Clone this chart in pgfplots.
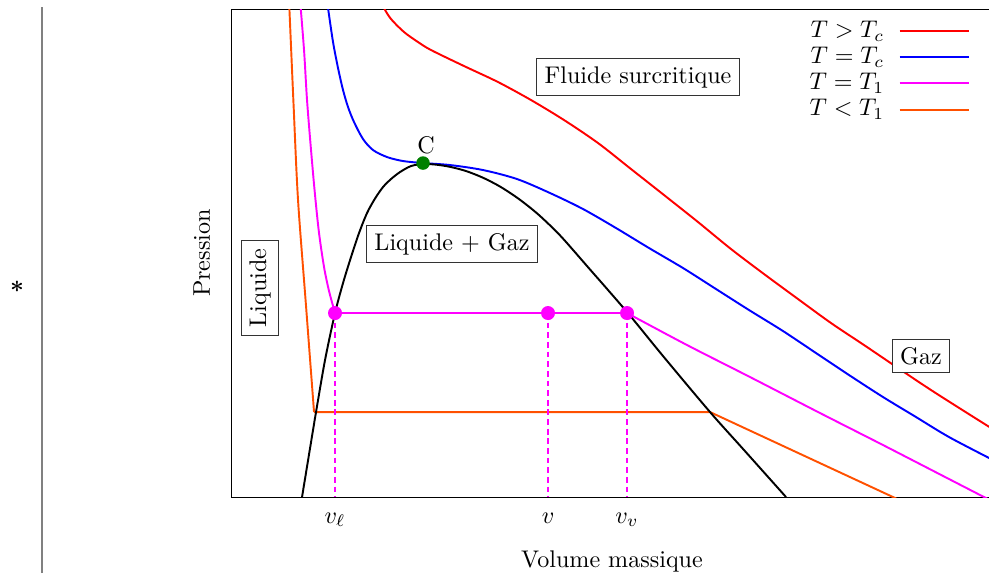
\documentclass[border=0pt]{standalone}
\usepackage{amsmath}
\usepackage{pgfplots}
\pgfplotsset{compat=1.18}
\definecolor{orangeT}{RGB}{255,80,0}
\definecolor{magentaT}{RGB}{255,0,255}
\definecolor{vertC}{RGB}{0,128,0}

\begin{document}
\begin{tikzpicture}
\path[use as bounding box] (0,0) rectangle (410.4pt,237.8pt);
% marge de page
\draw[gray, line width=0.5pt] (17.43pt,0) -- (17.43pt,234.9pt);
\node at (7.06pt,118.7pt) {$\boldsymbol{\ast}$};
\begin{axis}[
  at={(95.87pt,31.54pt)}, anchor=south west,
  scale only axis, width=316.2pt, height=202.5pt,
  xmin=0, xmax=762, ymin=0, ymax=488,
  xtick={104,317,396}, xticklabels={$v_\ell$,$v$,$v_v$},
  ytick=\empty, major tick length=0pt,
  xticklabel style={anchor=base, yshift=-10.8pt},
  xlabel={Volume massique}, ylabel={Pression},
  xlabel style={at={(axis description cs:0.5,-0.1434)}, anchor=base},
  ylabel style={at={(axis description cs:-0.0276,0.5)}, anchor=base},
  legend plot pos=right,
  legend cell align=right,
  legend image code/.code={\draw[#1] (0pt,0pt) -- (29pt,0pt);},
  legend style={draw=none, fill=none, at={(0.971,0.986)}, anchor=north east,
    inner sep=0pt, row sep=-1.5pt, column sep=4pt},
  every axis plot/.append style={line width=0.8pt},
]
% isothermes
\addplot[red, smooth] coordinates {(150,497)(153,489)(160,478)(173,465)(187,455)(200,447)(233,431)(267,415)(300,397)(333,377)(367,354)(400,328)(433,302)(467,275)(500,248)(533,223)(567,198)(600,174)(633,152)(667,129)(700,107)(733,86)(768,64)};
\addplot[blue, smooth] coordinates {(96,497)(97,489)(102,455)(107,429)(112,407)(117,390)(123,375)(132,358)(142,347)(156,340)(172,336)(192,334)(219,332)(252,327)(286,318)(319,304)(352,288)(385,269)(418,249)(452,229)(485,208)(518,187)(552,166)(585,144)(618,122)(652,100)(685,80)(718,60)(762,37)(768,34)};
\addplot[magentaT, smooth] coordinates {(69,497)(73,447)(76,397)(80,347)(84,302)(88,264)(93,230)(98,206)(104,184)};
\addplot[orangeT, smooth] coordinates {(58,497)(62.5,393)(67,297)(75,191)(83,85)};
\addplot[magentaT, forget plot] coordinates {(104,184)(396,184)};
\addplot[magentaT, smooth, forget plot] coordinates {(396,184)(456,152)(519,120)(589,84)(652,52)(718,18)(753,0)(759,-3)};
\addplot[orangeT, forget plot] coordinates {(83,85)(479,85)(662,0)(668,-3)};
% courbe de saturation
\addplot[black, smooth, forget plot] coordinates {(71,0)(82,67)(85,85)(94,137)(104,184)(112,214)(120,240)(128,264)(136,284)(144,298.5)(152,310)(160,318)(169,325)(180,331)(192,333)(205,332.4)(219,330.2)(235,326)(252,319.3)(269,310.5)(286,299.4)(300,288.7)(312,278.3)(330,260.6)(356,231)(396,185)(432,141)(479,85)(513,47)(555,0)};
% lectures
\addplot[magentaT, semithick, dash pattern=on 2.4pt off 1.6pt, forget plot] coordinates {(104,184)(104,0)};
\addplot[magentaT, semithick, dash pattern=on 2.4pt off 1.6pt, forget plot] coordinates {(317,184)(317,0)};
\addplot[magentaT, semithick, dash pattern=on 2.4pt off 1.6pt, forget plot] coordinates {(396,184)(396,0)};
\addplot[magentaT, only marks, mark=*, mark size=2.5pt, forget plot] coordinates {(104,184)(317,184)(396,184)};
\addplot[vertC, only marks, mark=*, mark size=2.4pt, forget plot] coordinates {(192,334)};
\legend{$T>T_c$,$T=T_c$,$T=T_1$,$T<T_1$}
\node[anchor=base] at (axis cs:195,344) {C};
\node[draw=black!80, fill=white] at (axis cs:407,420) {Fluide surcritique};
\node[draw=black!80, fill=white] at (axis cs:221,253) {Liquide + Gaz};
\node[draw=black!80, fill=white, rotate=90] at (axis cs:29,209) {Liquide};
\node[draw=black!80, fill=white] at (axis cs:690,141) {Gaz};
\end{axis}
\end{tikzpicture}
\end{document}
